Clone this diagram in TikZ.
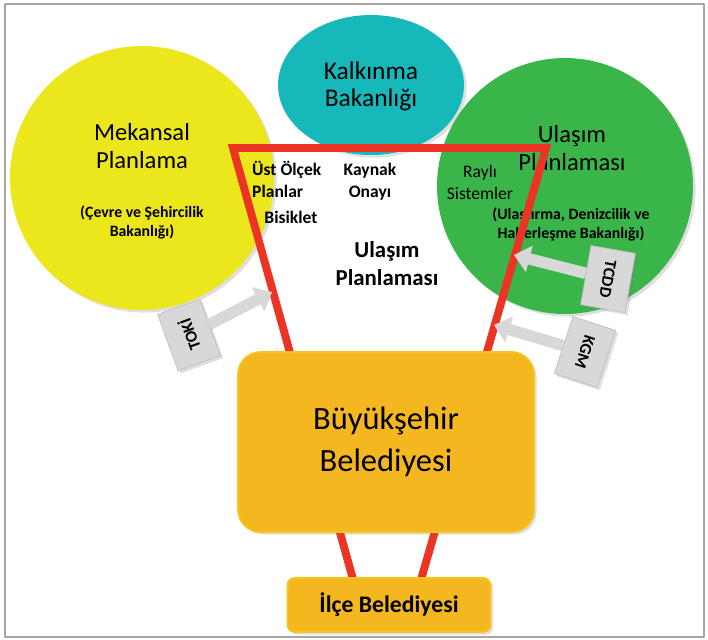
\documentclass[tikz,border=0pt]{standalone}
\usepackage{fontspec}
\setmainfont{Carlito}
\usetikzlibrary{arrows.meta,shadows,shapes.geometric}

\definecolor{mekanyellow}{RGB}{236,230,28}
\definecolor{kalkcyan}{RGB}{22,184,186}
\definecolor{ulasgreen}{RGB}{58,181,74}
\definecolor{belorange}{RGB}{245,183,32}
\definecolor{trapred}{RGB}{236,52,36}
\definecolor{taggray}{RGB}{216,216,216}

\begin{document}
\begin{tikzpicture}[x=0.02cm, y=0.02cm, line cap=round, line join=round,
  softshadow/.style={drop shadow={shadow xshift=1.5pt, shadow yshift=-1.5pt, opacity=0.25}},
  titletext/.style={align=center, font=\fontsize{14}{16}\selectfont},
  smalltext/.style={align=center, font=\bfseries\fontsize{9}{10.8}\selectfont},
  innertext/.style={align=center, font=\bfseries\fontsize{10}{12.5}\selectfont},
  belbox/.style={fill=belorange, draw=belorange!80!yellow, line width=1pt, softshadow, align=center},
  tagbox/.style={fill=taggray, draw=gray!50, minimum width=1.2cm, minimum height=0.9cm,
    inner sep=0pt, softshadow, font=\bfseries\fontsize{9.5}{11}\selectfont},
  tagarrow/.style={draw=taggray, line width=6.5pt, line cap=butt, -{Triangle[length=9pt,width=15pt]}}]

  \useasboundingbox (0,0) rectangle (708,-640);

  \coordinate (frameA) at (5,-4);
  \coordinate (frameB) at (704,-637);
  \coordinate (TL) at (233,-148);
  \coordinate (TR) at (546,-148);
  \coordinate (BR) at (418,-590);
  \coordinate (BL) at (356,-590);
  \coordinate (tokitip) at (272,-292);
  \coordinate (tcddtip) at (514,-255);
  \coordinate (kgmtip) at (494,-325);

  \draw[gray!70, line width=0.8pt] (frameA) rectangle (frameB);

  % the three ministries
  \node[circle, fill=mekanyellow, minimum size=5.28cm, softshadow] (mekan) at (142,-178) {};
  \node[circle, fill=ulasgreen, minimum size=5.12cm, softshadow] (ulas) at (565,-186) {};
  \node[ellipse, fill=kalkcyan, minimum width=3.72cm, minimum height=2.8cm, inner sep=0pt, softshadow] (kalk) at (371,-85) {};

  \node[titletext] (mekantitle) at (142,-146) {Mekansal\\Planlama};
  \node[smalltext] (mekanbak) at (142,-222) {(Çevre ve Şehircilik\\Bakanlığı)};
  \node[titletext, font=\fontsize{14.5}{15.3}\selectfont] (kalktitle) at (371,-86) {Kalkınma\\Bakanlığı};
  \node[titletext] (ulastitle) at (572,-148) {Ulaşım\\Planlaması};
  \node[smalltext] (ulasbak) at (571,-224) {(Ulaştırma, Denizcilik ve\\Haberleşme Bakanlığı)};

  \draw[trapred, line width=4.5pt, line join=miter] (BL) -- (TL) -- (TR) -- (BR);

  \node[innertext, align=left, anchor=west] (ustolcek) at (246,-179) {Üst Ölçek\\Planlar};
  \node[innertext] (bisiklet) at (291,-217) {Bisiklet};
  \node[innertext] (kaynak) at (370,-182) {Kaynak\\Onayı};
  \node[innertext, font=\fontsize{10}{12.5}\selectfont] (rayli) at (480,-182) {Raylı\\Sistemler};
  \node[innertext, font=\bfseries\fontsize{13}{16}\selectfont] (icplan) at (387,-264) {Ulaşım\\Planlaması};

  % agencies
  \node[tagbox, rotate=110] (toki) at (189,-335) {TOKİ};
  \node[tagbox, rotate=-100] (tcdd) at (608,-279) {TCDD};
  \node[tagbox, rotate=-108] (kgm) at (585,-352) {KGM};

  \draw[tagarrow] (toki) -- (tokitip);
  \draw[tagarrow] (tcdd) -- (tcddtip);
  \draw[tagarrow] (kgm) -- (kgmtip);

  % municipalities
  \node[belbox, minimum width=5.92cm, minimum height=3.6cm, rounded corners=0.45cm,
    font=\fontsize{18.5}{24}\selectfont] (bsb) at (386,-442) {Büyükşehir\\Belediyesi};
  \node[belbox, minimum width=4.06cm, minimum height=1.08cm, rounded corners=4pt,
    font=\bfseries\fontsize{13.5}{15}\selectfont] (ilce) at (389,-605) {İlçe Belediyesi};

\end{tikzpicture}
\end{document}
